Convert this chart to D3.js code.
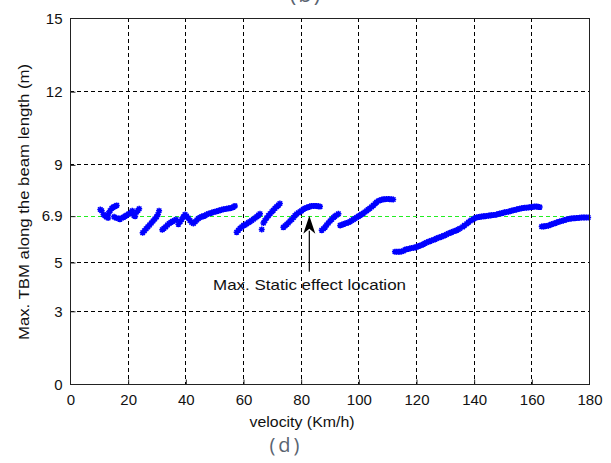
<!DOCTYPE html>
<html><head><meta charset="utf-8">
<script src="https://cdn.jsdelivr.net/npm/d3@7"></script>
<style>
html,body{margin:0;padding:0;background:#fff;}
svg{display:block;}
text{font-family:"Liberation Sans",Arial,sans-serif;}
</style></head>
<body>
<svg id="chart" width="611" height="463"></svg>
<script>
// ---- data ----
const xTicks = [0,20,40,60,80,100,120,140,160,180];
const yTicks = [0,3,5,6.9,9,12,15];
const yTickLabels = ["0","3","5","6.9","9","12","15"];
const refLevel = 6.9;
const velocity = [
 10.5,11.0,11.6,12.1,12.6,13.2,13.4,13.9,14.5,15.0,15.6,16.2,15.3,16.0,16.8,17.3,17.9,18.5,19.1,19.7,20.3,20.8,21.4,21.6,22.2,22.6,23.1,23.6,24.0,
 25.2,25.8,26.4,27.0,27.6,28.2,28.8,29.4,30.0,30.5,30.9,
 32.0,32.6,33.2,33.8,34.4,35.0,35.6,36.2,36.8,37.6,38.2,38.8,39.3,39.9,40.4,41.0,41.6,42.2,42.8,43.4,44.0,44.5,45.1,45.7,46.3,46.8,47.4,48.0,48.6,49.2,49.8,50.3,50.9,51.5,52.0,52.6,53.2,53.8,54.4,55.0,55.5,56.1,56.6,57.2,
 57.8,58.4,59.0,59.6,60.2,60.7,61.3,61.9,62.4,63.0,63.6,64.2,64.8,65.4,65.9,
 66.5,
 67.1,67.6,68.2,68.8,69.4,70.0,70.5,71.1,71.7,72.3,72.8,
 74.0,74.6,75.2,75.7,76.3,76.9,77.5,78.0,78.6,79.2,79.8,80.3,80.9,81.5,82.1,82.6,83.2,83.8,84.4,85.0,85.5,86.1,86.7,
 87.3,87.9,88.5,89.0,89.6,90.2,90.8,91.4,91.9,92.5,93.1,
 93.7,94.3,94.8,95.4,96.0,96.5,97.1,97.7,98.3,98.8,99.4,100.0,100.6,101.1,101.7,102.3,102.9,103.4,104.0,104.6,105.2,105.8,106.3,106.9,107.5,108.1,108.6,109.2,109.8,110.4,110.9,111.5,112.1,
 112.7,113.3,113.9,114.4,115.0,115.6,116.2,116.7,117.3,117.9,118.5,119.1,119.7,120.2,120.8,121.4,122.0,122.5,123.1,123.7,124.3,124.8,125.4,126.0,126.6,127.1,127.7,128.3,128.9,129.5,130.0,130.6,131.2,131.8,132.3,132.9,133.5,134.1,134.6,135.2,136.2,136.8,137.6,138.2,138.8,139.3,139.9,140.5,141.0,141.6,142.2,142.8,143.4,143.9,144.5,145.1,145.7,146.2,146.8,147.4,148.0,148.5,149.1,149.7,150.3,150.8,151.4,152.0,152.6,153.1,153.7,154.3,154.9,155.4,156.0,156.6,157.2,157.7,158.3,158.9,159.5,160.0,160.6,161.2,161.8,162.3,162.9,
 163.6,164.2,164.7,165.3,165.9,166.5,167.0,167.6,168.2,168.8,169.3,169.9,170.5,171.1,171.6,172.2,172.8,173.4,173.9,174.5,175.1,175.7,176.2,176.8,177.4,178.0,178.5,179.1,179.7
];
const maxTBM = [
 7.15,7.1,6.95,6.9,6.85,6.8,7.0,7.1,7.2,7.25,7.28,7.32,6.85,6.8,6.78,6.75,6.8,6.83,6.88,6.92,6.97,7.0,7.05,7.1,6.9,6.88,7.05,7.12,7.18,
 6.2,6.28,6.36,6.44,6.52,6.6,6.68,6.76,6.85,6.95,7.1,
 6.32,6.38,6.44,6.52,6.58,6.63,6.67,6.7,6.74,6.55,6.65,6.75,6.85,6.95,6.88,6.8,6.7,6.62,6.58,6.65,6.72,6.78,6.82,6.86,6.88,6.9,6.95,6.98,7.0,7.02,7.05,7.06,7.08,7.1,7.12,7.14,7.16,7.17,7.18,7.2,7.2,7.22,7.25,7.3,
 6.22,6.3,6.38,6.44,6.5,6.52,6.57,6.62,6.65,6.7,6.75,6.8,6.86,6.92,6.98,
 6.33,
 6.6,6.7,6.8,6.9,6.98,7.06,7.12,7.2,7.27,7.33,7.4,
 6.42,6.48,6.55,6.6,6.68,6.74,6.82,6.9,6.97,7.02,7.06,7.1,7.16,7.2,7.22,7.25,7.27,7.3,7.3,7.3,7.3,7.28,7.27,
 6.3,6.36,6.43,6.52,6.6,6.68,6.75,6.82,6.88,6.93,6.98,
 6.5,6.53,6.55,6.58,6.6,6.62,6.65,6.7,6.74,6.78,6.82,6.87,6.91,6.96,7.0,7.05,7.1,7.15,7.2,7.26,7.32,7.39,7.45,7.5,7.53,7.55,7.57,7.57,7.58,7.58,7.57,7.57,7.56,
 5.42,5.42,5.42,5.42,5.43,5.45,5.5,5.52,5.53,5.55,5.57,5.58,5.59,5.62,5.65,5.67,5.7,5.73,5.77,5.8,5.83,5.85,5.88,5.9,5.93,5.96,5.99,6.01,6.04,6.07,6.1,6.13,6.17,6.19,6.22,6.25,6.27,6.3,6.33,6.37,6.44,6.5,6.57,6.63,6.68,6.72,6.76,6.8,6.82,6.84,6.85,6.86,6.87,6.88,6.89,6.9,6.91,6.92,6.93,6.93,6.95,6.97,6.99,7.0,7.02,7.04,7.05,7.06,7.08,7.1,7.12,7.13,7.15,7.17,7.18,7.2,7.21,7.22,7.22,7.23,7.24,7.25,7.26,7.27,7.27,7.26,7.25,
 6.45,6.46,6.47,6.48,6.49,6.52,6.55,6.57,6.59,6.62,6.64,6.66,6.68,6.7,6.72,6.74,6.76,6.77,6.78,6.79,6.79,6.8,6.8,6.81,6.82,6.82,6.82,6.82,6.82
];
const annotationText = "Max. Static effect location";
const annotationPoint = [83, 6.9];
const annotationTail = [83, 4.6];
const xLabel = "velocity (Km/h)";
const yLabel = "Max. TBM along the beam length (m)";

// ---- layout ----
const svg = d3.select("#chart");
const m = {left:70, top:18, right:589, bottom:384};
const x = d3.scaleLinear().domain([0,180]).range([m.left, m.right]);
const y = d3.scaleLinear().domain([0,15]).range([m.bottom, m.top]);

// cropped caption at top and caption at bottom
svg.append("text").attr("x",306).attr("y",2).attr("text-anchor","middle")
  .attr("fill","#5a6470").style("font-family","'Open Sans',sans-serif").style("font-size","22px")
  .style("letter-spacing","2px").text("(b)");
svg.append("text").attr("x",286).attr("y",452).attr("text-anchor","middle")
  .attr("fill","#5a6470").style("font-family","'Open Sans',sans-serif").style("font-size","20px")
  .style("letter-spacing","3px").text("(d)");

// grid
const g = svg.append("g");
g.selectAll(".vg").data(xTicks.filter(d=>d>0 && d<180)).enter().append("line")
  .attr("x1",d=>Math.round(x(d))+0.5).attr("x2",d=>Math.round(x(d))+0.5)
  .attr("y1",m.top).attr("y2",m.bottom)
  .attr("stroke","#000").attr("stroke-width",1).attr("stroke-dasharray","4,3");
g.selectAll(".hg").data(yTicks.filter(d=>d>0 && d<15 && d!==refLevel)).enter().append("line")
  .attr("y1",d=>Math.round(y(d))+0.5).attr("y2",d=>Math.round(y(d))+0.5)
  .attr("x1",m.left).attr("x2",m.right)
  .attr("stroke","#000").attr("stroke-width",1).attr("stroke-dasharray","4,3");
// reference line
g.append("line").attr("x1",m.left).attr("x2",m.right)
  .attr("y1",Math.round(y(refLevel))+0.5).attr("y2",Math.round(y(refLevel))+0.5)
  .attr("stroke","#22ee22").attr("stroke-width",1).attr("stroke-dasharray","4,3");

// data markers (asterisk)
const pts = velocity.map((v,i)=>[v,maxTBM[i]]);
const r = 3;
const mk = svg.append("g").attr("stroke","#0000ff").attr("stroke-width",1.5).attr("fill","none");
mk.selectAll("path").data(pts).enter().append("path")
  .attr("transform",d=>`translate(${x(d[0])},${y(d[1])})`)
  .attr("d",`M${-r},0H${r}M0,${-r}V${r}M${-r*0.75},${-r*0.75}L${r*0.75},${r*0.75}M${-r*0.75},${r*0.75}L${r*0.75},${-r*0.75}`);

// axes box
svg.append("rect").attr("x",m.left+0.5).attr("y",m.top+0.5)
  .attr("width",m.right-m.left).attr("height",m.bottom-m.top)
  .attr("fill","none").attr("stroke","#222").attr("stroke-width",1);

// axes with ticks (inward)
const xAxis = d3.axisBottom(x).tickValues(xTicks).tickSize(-5).tickPadding(10).tickFormat(d3.format("d"));
const gx = svg.append("g").attr("transform",`translate(0.5,${m.bottom+0.5})`).call(xAxis);
const yAxis = d3.axisLeft(y).tickValues(yTicks).tickSize(-5).tickPadding(8).tickFormat((d,i)=>yTickLabels[i]);
const gy = svg.append("g").attr("transform",`translate(${m.left+0.5},0.5)`).call(yAxis);
[gx,gy].forEach(a=>{
  a.select(".domain").remove();
  a.selectAll(".tick line").attr("stroke","#222");
  a.selectAll("text").attr("fill","#111").style("font-family","'Liberation Sans',Arial,sans-serif").style("font-size","15px");
});
gx.selectAll(".tick").filter(d=>d===0||d===180).select("line").remove();
gy.selectAll(".tick").filter(d=>d===0||d===15).select("line").remove();
gx.selectAll("text").attr("dy","0.71em");

// axis labels
svg.append("text").attr("x",302).attr("y",427).attr("text-anchor","middle")
  .attr("fill","#111").style("font-size","15px")
  .attr("textLength",105).attr("lengthAdjust","spacingAndGlyphs").text(xLabel);
svg.append("text").attr("transform","translate(29,202) rotate(-90)").attr("text-anchor","middle")
  .attr("fill","#111").style("font-size","15px")
  .attr("textLength",276).attr("lengthAdjust","spacingAndGlyphs").text(yLabel);

// annotation arrow
const ax = x(annotationPoint[0]), ay = y(annotationPoint[1]);
const ty = y(annotationTail[1]);
svg.append("line").attr("x1",ax).attr("x2",ax).attr("y1",ay+15).attr("y2",ty)
  .attr("stroke","#000").attr("stroke-width",1.2);
svg.append("path").attr("d",`M${ax},${ay} L${ax-6},${ay+18} L${ax},${ay+13} L${ax+6},${ay+18} Z`).attr("fill","#000");
svg.append("text").attr("x",213).attr("y",290).attr("fill","#111").style("font-size","15px")
  .attr("textLength",193).attr("lengthAdjust","spacingAndGlyphs").text(annotationText);
</script>
</body></html>
